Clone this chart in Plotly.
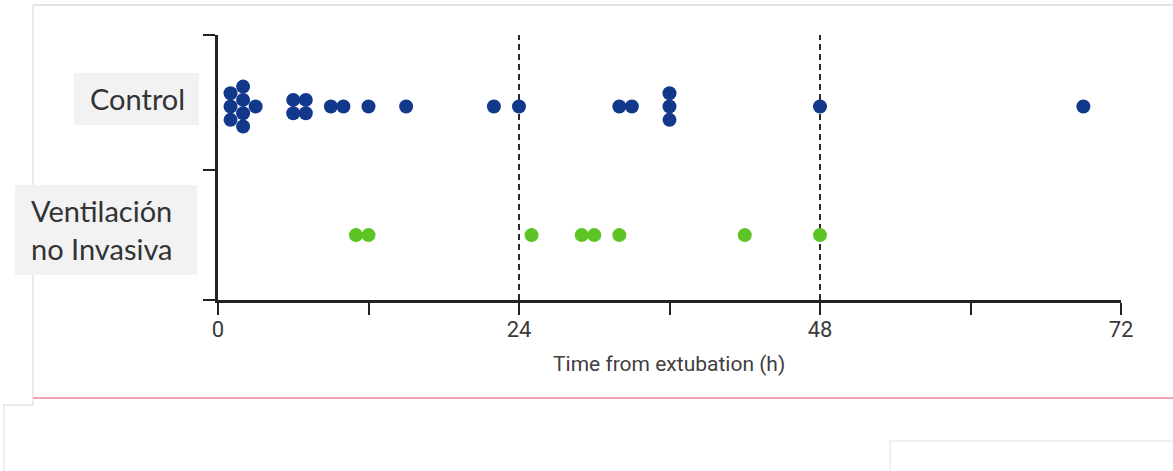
import plotly.graph_objects as go

# ---------------- data (hours from extubation) ----------------
groups = ["Control", "Ventilación<br>no Invasiva"]
control_hours = [1, 1, 1, 2, 2, 2, 2, 3, 6, 6, 7, 7, 9, 10, 12, 15, 22, 24,
                 32, 33, 36, 36, 36, 48, 69]
niv_hours = [11, 12, 25, 29, 30, 32, 42, 48]
x_tick_vals = [0, 12, 24, 36, 48, 60, 72]
x_tick_text = ["0", "", "24", "", "48", "", "72"]
reference_hours = [24, 48]
x_title = "Time from extubation (h)"

# ---------------- layout constants ----------------
W, H = 1173, 471
L, R, T, B = 218, 52, 35, 171
PW, PH = W - L - R, H - T - B
YMIN, YMAX = 0.0, 2.0
Y_TICKS = [0, 0.98, 2]
GROUP_CENTER = {"Control": 1.46, "NIV": 0.49}
LANE_PX = 13.3
BLUE = "#12388c"
GREEN = "#5cc424"


def px_x(px):
    return (px - L) / PW


def px_y(py):
    return (H - B - py) / PH


def stacked(values, centre):
    """Dot-plot stacking: equal values are spread symmetrically around the centre."""
    lane = LANE_PX / (PH / (YMAX - YMIN))
    xs, ys = [], []
    for v in sorted(set(values)):
        n = values.count(v)
        for i in range(n):
            xs.append(v)
            ys.append(centre + (i - (n - 1) / 2) * lane)
    return xs, ys


cx, cy = stacked(control_hours, GROUP_CENTER["Control"])
nx, ny = stacked(niv_hours, GROUP_CENTER["NIV"])

fig = go.Figure()
fig.add_trace(go.Scatter(x=cx, y=cy, mode="markers", name="Control",
                         marker=dict(size=14, color=BLUE, line=dict(width=0)),
                         cliponaxis=False, showlegend=False))
fig.add_trace(go.Scatter(x=nx, y=ny, mode="markers", name="Ventilación no Invasiva",
                         marker=dict(size=14, color=GREEN, line=dict(width=0)),
                         cliponaxis=False, showlegend=False))

shapes = []
# faint page frame lines
frame_col = "#e3e3e3"
for (x0, y0, x1, y1, w) in [
    (33, 5, 1173, 5, 2), (33, 5, 33, 405, 1.5), (3, 405, 33, 405, 1.5),
    (4, 405, 4, 471, 1.2), (890, 441, 1173, 441, 1.2), (890, 441, 890, 471, 1.2)]:
    shapes.append(dict(type="line", xref="paper", yref="paper",
                       x0=px_x(x0), y0=px_y(y0), x1=px_x(x1), y1=px_y(y1),
                       line=dict(color=frame_col, width=w), layer="below"))
# pink separator
shapes.append(dict(type="line", xref="paper", yref="paper",
                   x0=px_x(33), y0=px_y(398), x1=px_x(1173), y1=px_y(398),
                   line=dict(color="#efa3b3", width=2), layer="below"))
# label boxes
for (x0, y0, x1, y1) in [(74, 73, 199, 125), (15, 185, 197, 275)]:
    shapes.append(dict(type="rect", xref="paper", yref="paper",
                       x0=px_x(x0), y0=px_y(y1), x1=px_x(x1), y1=px_y(y0),
                       fillcolor="#f2f2f2", line=dict(width=0), layer="below"))
# dashed reference lines
for hr in reference_hours:
    shapes.append(dict(type="line", xref="x", yref="y", x0=hr, x1=hr, y0=YMIN, y1=YMAX,
                       line=dict(color="#2a2a2a", width=2, dash="6px,4px"), layer="below"))

annotations = [
    dict(text="Control", xref="paper", yref="paper", x=px_x(137), y=px_y(99),
         xanchor="center", yanchor="middle", showarrow=False,
         font=dict(family="Lato", size=29, color="#333333")),
    dict(text=groups[1], xref="paper", yref="paper", x=px_x(29), y=px_y(229),
         xanchor="left", yanchor="middle", align="left", showarrow=False,
         font=dict(family="Lato", size=29, color="#333333")),
    dict(text=x_title, xref="paper", yref="paper", x=px_x(669), y=px_y(364),
         xanchor="center", yanchor="middle", showarrow=False,
         font=dict(family="Liberation Sans Narrow, Roboto", size=21, color="#404040")),
]

fig.update_layout(
    width=W, height=H, margin=dict(l=L, r=R, t=T, b=B, autoexpand=False),
    paper_bgcolor="white", plot_bgcolor="white",
    shapes=shapes, annotations=annotations,
    xaxis=dict(range=[0, 72], tickvals=x_tick_vals, ticktext=x_tick_text,
               showline=True, linecolor="#222222", linewidth=2.5, mirror=False,
               ticks="outside", ticklen=12, tickwidth=2, tickcolor="#222222",
               showgrid=False, zeroline=False, fixedrange=True,
               ticklabelstandoff=-4,
               tickfont=dict(family="Liberation Sans Narrow, Roboto", size=22, color="#3a3a3a")),
    yaxis=dict(range=[YMIN, YMAX], tickvals=Y_TICKS, showticklabels=False,
               showline=True, linecolor="#222222", linewidth=2.5,
               ticks="outside", ticklen=12, tickwidth=2, tickcolor="#222222",
               showgrid=False, zeroline=False, fixedrange=True),
)

fig.write_html("out.html")
